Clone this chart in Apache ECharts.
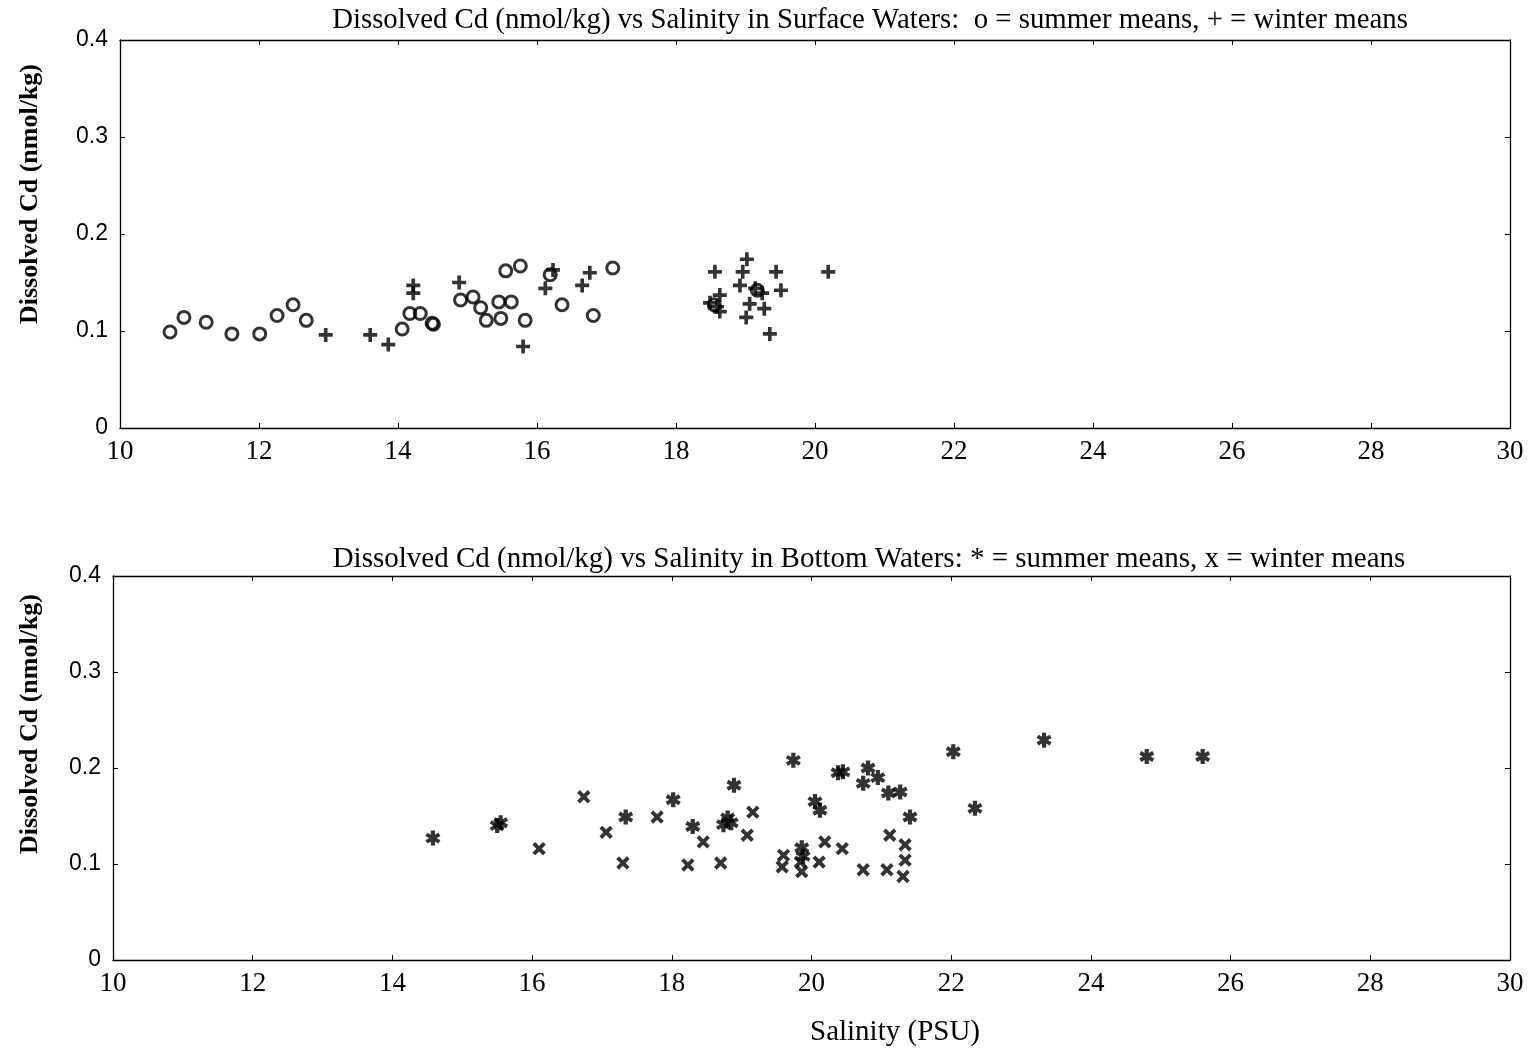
<!DOCTYPE html>
<html><head><meta charset="utf-8">
<script src="https://cdn.jsdelivr.net/npm/echarts@6/dist/echarts.min.js"></script>
<style>html,body{margin:0;padding:0;background:#fff}#c{width:1530px;height:1050px}</style>
</head><body><div id="c"></div>
<script>
const xTicks = [10,12,14,16,18,20,22,24,26,28,30];
const yTicks = [0,0.1,0.2,0.3,0.4];
const titleTop = "Dissolved Cd (nmol/kg) vs Salinity in Surface Waters:  o = summer means, + = winter means";
const titleBottom = "Dissolved Cd (nmol/kg) vs Salinity in Bottom Waters: * = summer means, x = winter means";
const yName = "Dissolved Cd (nmol/kg)";
const xName = "Salinity (PSU)";

const surfaceSummer = [[10.72,0.099],[10.92,0.114],[11.24,0.109],[11.61,0.097],[12.01,0.097],[12.26,0.116],[12.49,0.127],[12.68,0.111],[14.06,0.102],[14.17,0.118],[14.32,0.118],[14.49,0.108],[14.51,0.107],[14.90,0.132],[15.08,0.135],[15.19,0.124],[15.27,0.111],[15.45,0.130],[15.48,0.113],[15.55,0.162],[15.63,0.130],[15.76,0.167],[15.83,0.111],[16.19,0.158],[16.36,0.127],[16.81,0.116],[17.09,0.165],[18.55,0.127],[19.17,0.142]];
const surfaceWinter = [[12.96,0.096],[13.60,0.096],[13.86,0.086],[14.22,0.147],[14.22,0.139],[14.88,0.150],[15.80,0.084],[16.12,0.144],[16.23,0.163],[16.65,0.147],[16.76,0.160],[18.49,0.129],[18.56,0.161],[18.59,0.125],[18.63,0.137],[18.63,0.120],[18.92,0.147],[18.96,0.161],[19.01,0.114],[19.02,0.174],[19.06,0.128],[19.14,0.144],[19.24,0.139],[19.27,0.123],[19.35,0.097],[19.44,0.161],[19.51,0.142],[20.19,0.161]];
const bottomSummer = [[14.58,0.127],[15.50,0.140],[15.55,0.143],[17.34,0.149],[18.02,0.167],[18.30,0.139],[18.74,0.141],[18.80,0.148],[18.85,0.143],[18.89,0.182],[19.74,0.208],[19.86,0.117],[19.88,0.108],[20.05,0.165],[20.12,0.156],[20.38,0.195],[20.45,0.196],[20.74,0.184],[20.81,0.200],[20.95,0.190],[21.10,0.174],[21.27,0.175],[21.41,0.149],[22.03,0.217],[22.34,0.158],[23.33,0.229],[24.80,0.212],[25.60,0.212]];
const bottomWinter = [[16.10,0.116],[16.74,0.170],[17.06,0.133],[17.30,0.101],[17.79,0.149],[18.23,0.099],[18.45,0.123],[18.70,0.101],[19.08,0.130],[19.16,0.154],[19.58,0.097],[19.60,0.109],[19.84,0.102],[19.86,0.092],[20.11,0.102],[20.19,0.123],[20.44,0.116],[20.74,0.094],[21.08,0.094],[21.12,0.130],[21.31,0.087],[21.34,0.104],[21.34,0.120]];

const PLUS = 'path://M3.7,0H6.3V3.7H10V6.3H6.3V10H3.7V6.3H0V3.7H3.7Z';
const STAR = 'path://M3.6,0L6.4,0L6.4,10L3.6,10Z M1.32,1.37L9.98,6.37L8.68,8.63L0.02,3.63Z M0.02,6.37L8.68,1.37L9.98,3.63L1.32,8.63Z M2.6,2.6L7.4,2.6L7.4,7.4L2.6,7.4Z';

const serif = 'Liberation Serif';
const sans = 'Liberation Sans';

function xAx(gi, pos, labels) {
  return {
    type:'value', gridIndex:gi, position:pos, min:10, max:30, interval:2,
    axisLine:{show:true, onZero:false, lineStyle:{color:'#000', width:1.3}},
    axisTick:{show:true, inside:true, length:5, lineStyle:{color:'#000', width:1}},
    axisLabel:{show:labels, color:'#000', fontFamily:serif, fontSize:27, margin:10},
    splitLine:{show:false}
  };
}
function yAx(gi, pos, labels) {
  return {
    type:'value', gridIndex:gi, position:pos, min:0, max:0.4, interval:0.1,
    axisLine:{show:true, onZero:false, lineStyle:{color:'#000', width:1.3}},
    axisTick:{show:true, inside:true, length:5, lineStyle:{color:'#000', width:1}},
    axisLabel:{show:labels, color:'#000', fontFamily:sans, fontSize:23, margin:12,
      formatter: v => (v===0 ? '0' : v.toFixed(1))},
    splitLine:{show:false}
  };
}
function yLabel(cy) {
  return {type:'text', x:30, y:cy, rotation:Math.PI/2,
    style:{text:yName, fill:'#000', font:'bold 26px "Liberation Serif"', textAlign:'center', textVerticalAlign:'middle'}};
}

const chart = echarts.init(document.getElementById('c'), null, {renderer:'canvas'});
chart.setOption({
  animation:false,
  backgroundColor:'#fff',
  title:[
    {text:titleTop, left:865, top:1, textAlign:'center',
     textStyle:{color:'#000', fontFamily:serif, fontSize:28.8, fontWeight:'normal'}},
    {text:titleBottom, left:864, top:540, textAlign:'center',
     textStyle:{color:'#000', fontFamily:serif, fontSize:29, fontWeight:'normal'}},
    {text:xName, left:890, top:1013, textAlign:'center',
     textStyle:{color:'#000', fontFamily:serif, fontSize:29, fontWeight:'normal'}}
  ],
  graphic:[yLabel(194), yLabel(724)],
  grid:[
    {left:120, right:20, top:40, height:388, show:false},
    {left:113, right:20, top:576, height:384, show:false}
  ],
  xAxis:[xAx(0,'bottom',true), xAx(0,'top',false), xAx(1,'bottom',true), xAx(1,'top',false)],
  yAxis:[yAx(0,'left',true), yAx(0,'right',false), yAx(1,'left',true), yAx(1,'right',false)],
  series:[
    {type:'scatter', xAxisIndex:0, yAxisIndex:0, data:surfaceSummer, symbol:'circle', symbolSize:12,
     itemStyle:{color:'rgba(255,255,255,0)', borderColor:'#000', borderWidth:3}},
    {type:'scatter', xAxisIndex:0, yAxisIndex:0, data:surfaceWinter, symbol:PLUS, symbolSize:14,
     itemStyle:{color:'#000'}},
    {type:'scatter', xAxisIndex:2, yAxisIndex:2, data:bottomSummer, symbol:STAR, symbolSize:15,
     itemStyle:{color:'#000'}},
    {type:'scatter', xAxisIndex:2, yAxisIndex:2, data:bottomWinter, symbol:PLUS, symbolSize:15, symbolRotate:45,
     itemStyle:{color:'#000'}}
  ]
});
</script></body></html>
